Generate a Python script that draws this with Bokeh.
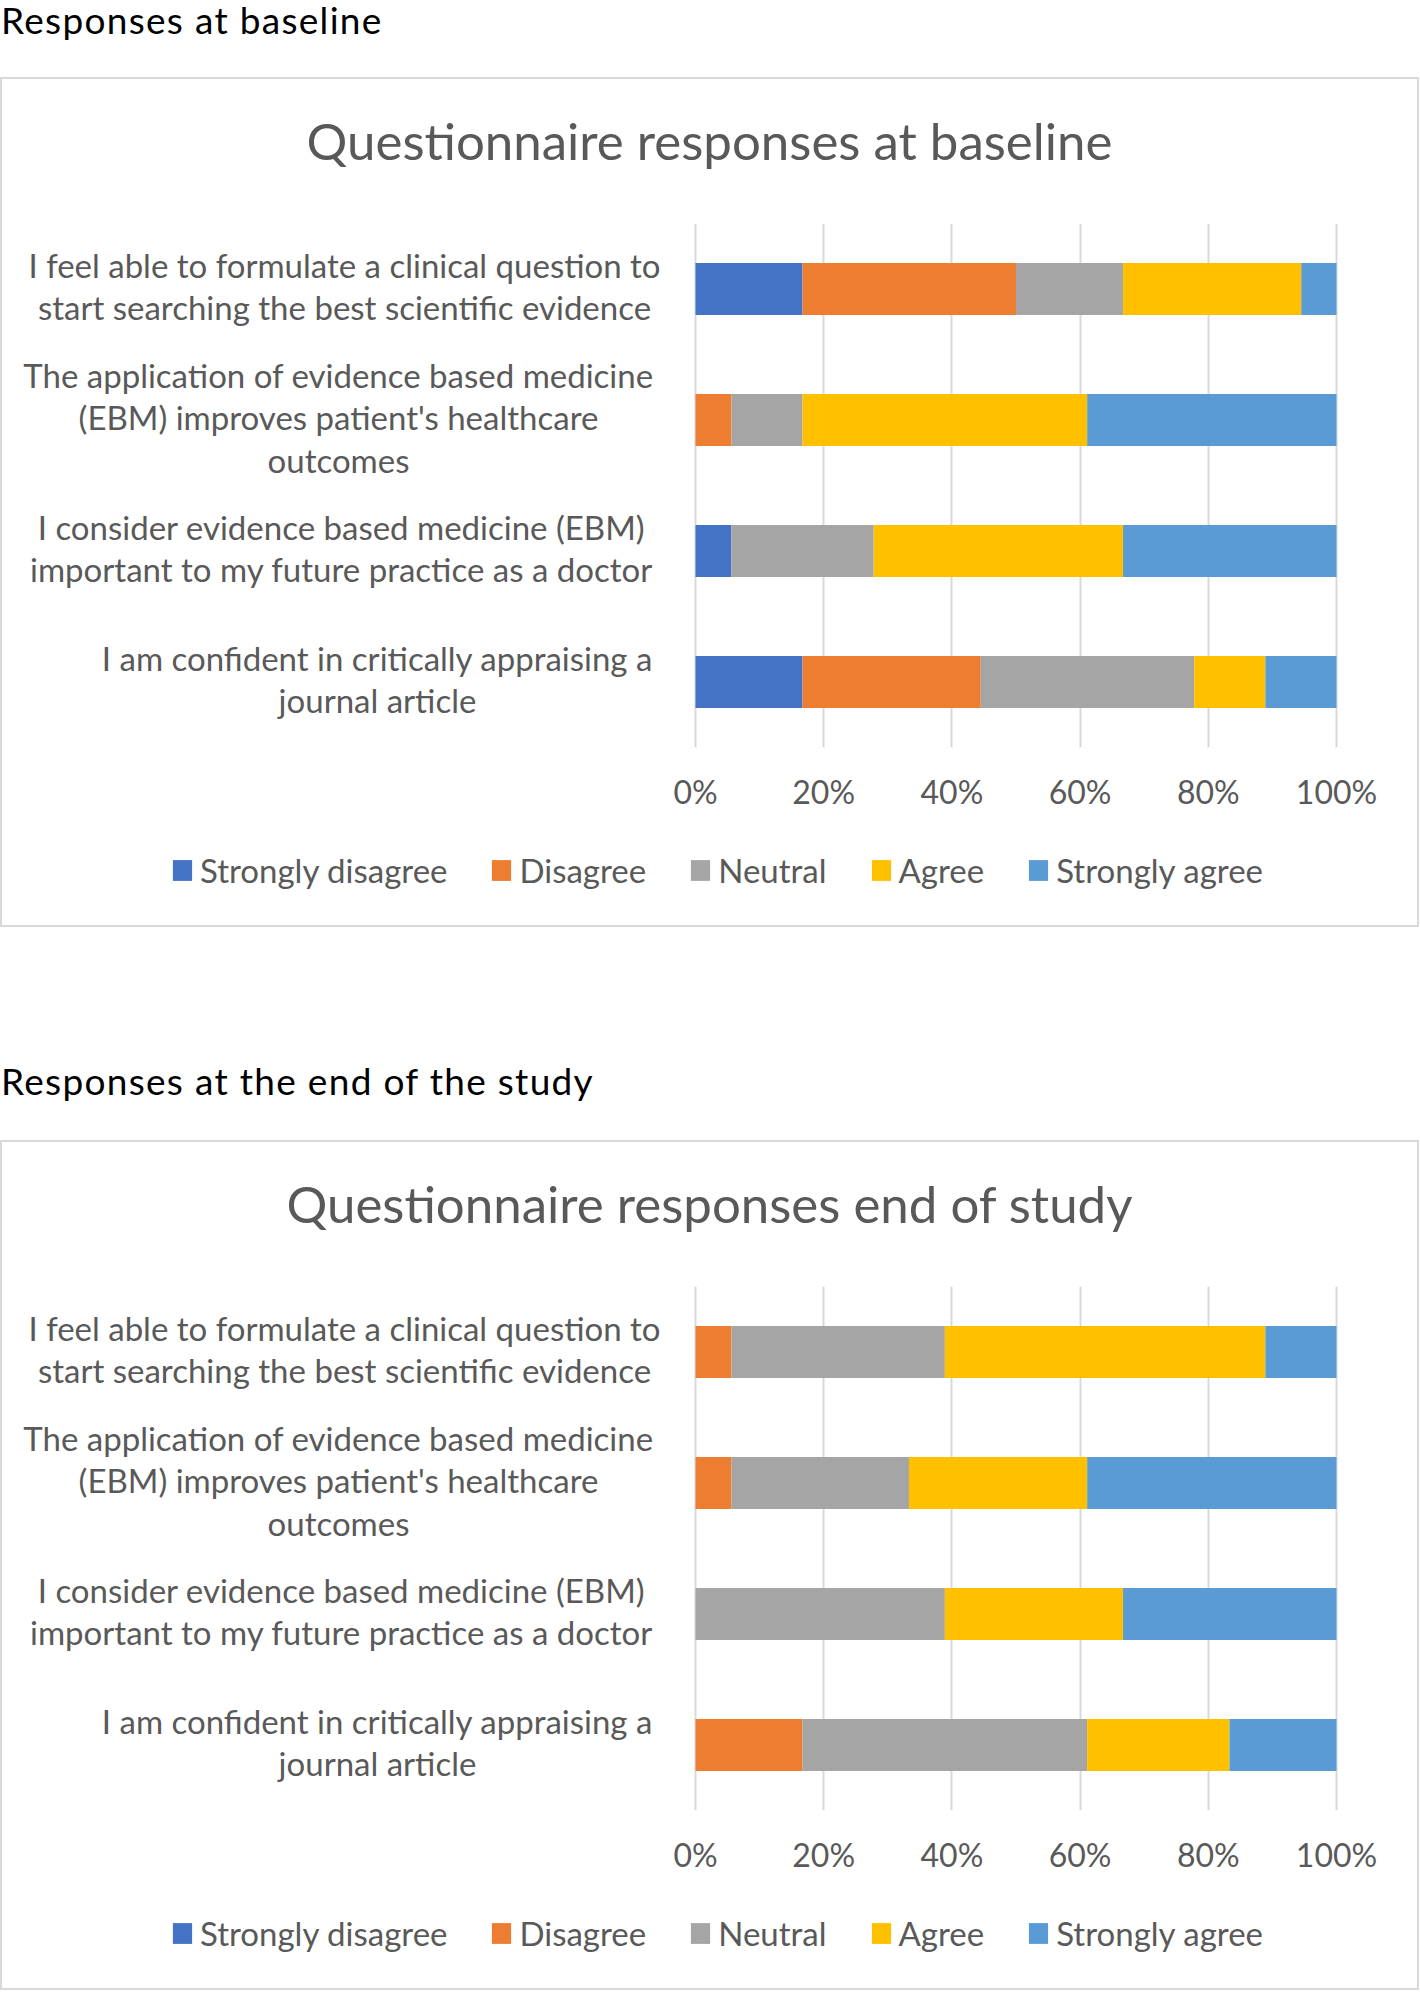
from bokeh.plotting import figure
from bokeh.models import (FactorRange, Range1d, FixedTicker, PrintfTickFormatter, Legend,
                          LegendItem, Div, ColumnDataSource)
from bokeh.core.properties import value
from bokeh.layouts import column
from bokeh.embed import file_html
from bokeh.resources import INLINE

# ---------------- data ----------------
categories = [
    "I feel able to formulate a clinical question to start searching the best scientific evidence",
    "The application of evidence based medicine (EBM) improves patient's healthcare outcomes",
    "I consider evidence based medicine (EBM) important to my future practice as a doctor",
    "I am confident in critically appraising a journal article",
]
category_lines = [
    ["I feel able to formulate a clinical question to",
     "start searching the best scientific evidence"],
    ["The application of evidence based medicine",
     "(EBM) improves patient's healthcare",
     "outcomes"],
    ["I consider evidence based medicine (EBM)",
     "important to my future practice as a doctor"],
    ["I am confident in critically appraising a",
     "journal article"],
]
responses = ["Strongly disagree", "Disagree", "Neutral", "Agree", "Strongly agree"]
colors = ["#4472C4", "#ED7D31", "#A5A5A5", "#FFC000", "#5B9BD5"]
tick_values = [0, 20, 40, 60, 80, 100]

# percentages, per category (top to bottom)
baseline_strongly_disagree = [16.7, 0.0, 5.6, 16.7]
baseline_disagree = [33.3, 5.6, 0.0, 27.8]
baseline_neutral = [16.7, 11.1, 22.2, 33.3]
baseline_agree = [27.8, 44.4, 38.9, 11.1]
baseline_strongly_agree = [5.5, 38.9, 33.3, 11.1]

end_strongly_disagree = [0.0, 0.0, 0.0, 0.0]
end_disagree = [5.6, 5.6, 0.0, 16.7]
end_neutral = [33.3, 27.7, 38.9, 44.4]
end_agree = [50.0, 27.8, 27.8, 22.2]
end_strongly_agree = [11.1, 38.9, 33.3, 16.7]

# ---------------- layout constants (pixels) ----------------
W = 1419
AXIS_X0, AXIS_X100 = 695, 1336          # page x of 0% and 100%
PX_PER_UNIT = (AXIS_X100 - AXIS_X0) / 100
TITLE_H = 146
FRAME_H = 524
AXIS_H = 71
LEGEND_H = 109
CAT_PX = FRAME_H / len(categories)
LABEL_CENTER_PX = [344, 338, 341, 377]  # horizontal centre of each label block
LINE_PX = 42.5
LABEL_RAISE_PX = 3
FONT = "Lato"
GREY = "#595959"
BOX_STYLE = {"outline": "2px solid #D9D9D9", "outline-offset": "-2px"}


def make_chart(title_text, series):
    data = {"cat": categories}
    for name, vals in zip(responses, series):
        data[name] = vals
    src = ColumnDataSource(data)

    x0 = -AXIS_X0 / PX_PER_UNIT
    x1 = (W - AXIS_X0) / PX_PER_UNIT
    p = figure(frame_width=W, frame_height=FRAME_H, title=None,
               y_range=FactorRange(factors=list(reversed(categories))),
               x_range=Range1d(x0, x1), output_backend="svg", toolbar_location=None,
               y_axis_location=None, min_border_left=0, min_border_right=0,
               min_border_top=0, min_border_bottom=AXIS_H, margin=0)
    p.y_range.range_padding = 0
    p.border_fill_color = None
    p.background_fill_color = None
    p.hbar_stack(responses, y="cat", height=52 / CAT_PX, color=colors,
                 source=src, line_width=0)

    # category labels, each line centred within its block
    lx, ly, lt = [], [], []
    for cat, lines, cx in zip(categories, category_lines, LABEL_CENTER_PX):
        n = len(lines)
        for i, line in enumerate(lines):
            lx.append((cx - AXIS_X0) / PX_PER_UNIT)
            ly.append((cat, (((n - 1) / 2 - i) * LINE_PX + LABEL_RAISE_PX) / CAT_PX))
            lt.append(line)
    p.text(x=lx, y=ly, text=lt, text_align="center", text_baseline="middle",
           text_font=value(FONT), text_font_size="33px", text_color=GREY)

    p.xaxis.ticker = FixedTicker(ticks=tick_values)
    p.xaxis.formatter = PrintfTickFormatter(format="%d%%")
    p.xaxis.axis_line_color = None
    p.xaxis.major_tick_line_color = None
    p.xaxis.minor_tick_line_color = None
    p.xaxis.major_label_text_font = FONT
    p.xaxis.major_label_text_color = GREY
    p.xaxis.major_label_text_font_size = "32px"
    p.xaxis.major_label_standoff = 18
    p.xgrid.grid_line_color = "#D9D9D9"
    p.xgrid.grid_line_width = 2
    p.ygrid.grid_line_color = None
    p.outline_line_color = None

    # legend strip: one proxy bar per response (kept outside the strip's visible range)
    leg = figure(width=W, height=LEGEND_H, x_range=Range1d(0, 1), y_range=Range1d(0, 1),
                 x_axis_location=None, y_axis_location=None, toolbar_location=None,
                 output_backend="svg", min_border=0, margin=0)
    leg.grid.visible = False
    leg.outline_line_color = None
    leg.border_fill_color = None
    leg.background_fill_color = None
    items = []
    for r, c in zip(responses, colors):
        rr = leg.hbar(y=[-10], left=[0], right=[1], height=0.5, color=c, line_width=0)
        items.append(LegendItem(label=r, renderers=[rr]))
    legend = Legend(items=items, orientation="horizontal", location=(170, 37),
                    glyph_width=24, glyph_height=26, label_standoff=6, spacing=42,
                    label_height=40, padding=0, margin=0, border_line_color=None,
                    background_fill_alpha=0, label_text_font=FONT,
                    label_text_font_size="33px", label_text_color=GREY)
    leg.add_layout(legend)

    title = Div(text=('<div style="width:%dpx;font-family:Lato;font-size:51px;'
                      'line-height:51px;color:#595959;text-align:center;position:relative;'
                      'top:38px;white-space:nowrap">%s</div>' % (W, title_text)),
                width=W, height=TITLE_H, margin=0, styles={"overflow": "visible"})
    return column(title, p, leg, spacing=0, margin=0, styles=BOX_STYLE)


def heading(text, height, top):
    html = ('<div style="font-family:Lato;font-size:37px;line-height:37px;color:#000;'
            'letter-spacing:1.3px;position:relative;top:%dpx;left:1px;white-space:nowrap">'
            '%s</div>' % (top, text))
    return Div(text=html, width=W, height=height, margin=0, styles={"overflow": "visible"})


box1 = make_chart("Questionnaire responses at baseline",
                  [baseline_strongly_disagree, baseline_disagree, baseline_neutral,
                   baseline_agree, baseline_strongly_agree])
box2 = make_chart("Questionnaire responses end of study",
                  [end_strongly_disagree, end_disagree, end_neutral, end_agree,
                   end_strongly_agree])

layout = column(heading("Responses at baseline", 77, 1), box1,
                heading("Responses at the end of the study", 213, 135), box2,
                spacing=0, margin=0)

open("out.html", "w").write(file_html(layout, INLINE))
